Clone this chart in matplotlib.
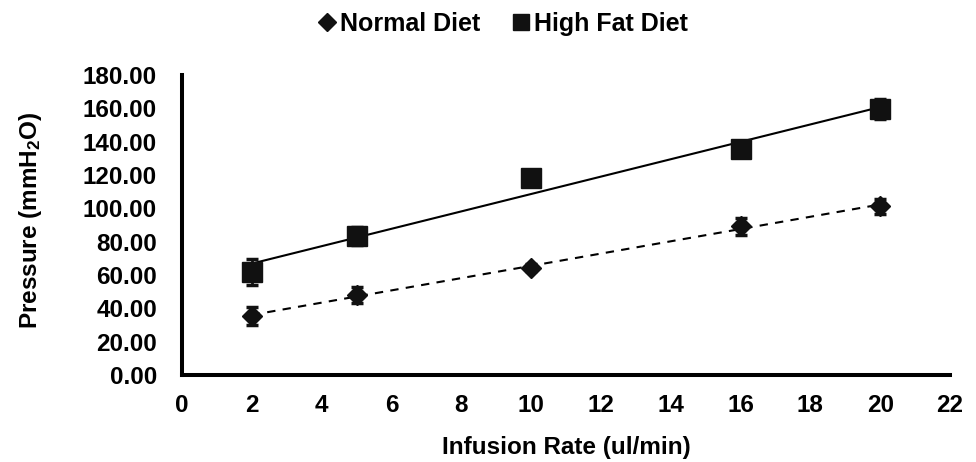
import numpy as np
import matplotlib
matplotlib.use("Agg")
import matplotlib.pyplot as plt
from matplotlib.lines import Line2D

plt.rcParams['font.family'] = ['Liberation Sans', 'DejaVu Sans']
plt.rcParams['font.weight'] = 'bold'
plt.rcParams['mathtext.fontset'] = 'custom'
plt.rcParams['mathtext.bf'] = 'Liberation Sans:bold'
plt.rcParams['mathtext.rm'] = 'Liberation Sans:bold'
plt.rcParams['mathtext.default'] = 'bf'

# Data
infusion_rate = [2, 5, 10, 16, 20]
normal_diet = [35.5, 48.0, 64.4, 89.3, 101.3]
normal_err = [5.5, 4.8, 2.0, 5.0, 4.5]
high_fat = [61.8, 83.3, 118.2, 135.6, 159.7]
high_fat_err = [7.8, 5.5, 3.0, 3.0, 5.8]
x_ticks = list(range(0, 23, 2))
y_ticks = list(range(0, 181, 20))

fig = plt.figure(figsize=(9.76, 4.62), dpi=100)
ax = fig.add_axes([182/976, 1-375/462, (950-182)/976, (375-75)/462])

x = np.array(infusion_rate, dtype=float)

# trendlines
xl = np.array([min(infusion_rate), max(infusion_rate)], dtype=float)
p_hf = np.polyfit(x, high_fat, 1)
p_nd = np.polyfit(x, normal_diet, 1)
ax.plot(xl, np.polyval(p_hf, xl), color='black', lw=1.5, zorder=2)
ax.plot(xl, np.polyval(p_nd, xl), color='black', lw=1.5, ls=(0, (4, 3.5)), zorder=2)

ax.errorbar(x, high_fat, yerr=high_fat_err, fmt='s', color='#111111', ms=14,
            ecolor='#111111', elinewidth=2, capsize=4.3, capthick=2.5, zorder=3)
ax.errorbar(x, normal_diet, yerr=normal_err, fmt='D', color='#111111', ms=10.5,
            ecolor='#111111', elinewidth=2, capsize=4.3, capthick=2.5, zorder=3)

ax.set_xlim(0, 22)
ax.set_ylim(0, 180)
ax.set_xticks(x_ticks)
ax.set_yticks(y_ticks)
ax.set_yticklabels([f"{v:.2f}" for v in y_ticks])
ax.tick_params(axis='both', length=0, labelsize=17.5)
ax.tick_params(axis='y', pad=18)
ax.tick_params(axis='x', pad=14)
for lab in ax.get_xticklabels() + ax.get_yticklabels():
    lab.set_fontweight('bold')

for s in ['top', 'right']:
    ax.spines[s].set_visible(False)
for s in ['left', 'bottom']:
    ax.spines[s].set_linewidth(2.9)
    ax.spines[s].set_color('black')

ax.set_xlabel('Infusion Rate (ul/min)', fontsize=17.5, fontweight='bold')
ax.set_ylabel(r'Pressure (mmH$_2$O)', fontsize=17.5, fontweight='bold')
ax.xaxis.set_label_coords(0.5007, -0.203)
ax.yaxis.set_label_coords(-0.18, 0.517)

handles = [Line2D([], [], marker='D', color='#111111', ls='none', ms=9),
           Line2D([], [], marker='s', color='#111111', ls='none', ms=11)]
fig.legend(handles, ['Normal Diet', 'High Fat Diet'], loc='center',
           bbox_to_anchor=(0.514, 0.948), ncol=2, frameon=False,
           prop={'size': 18, 'weight': 'bold'}, handletextpad=0.05,
           handlelength=0.9, columnspacing=1.2, borderpad=0)

fig.savefig('out.png', dpi=100)
